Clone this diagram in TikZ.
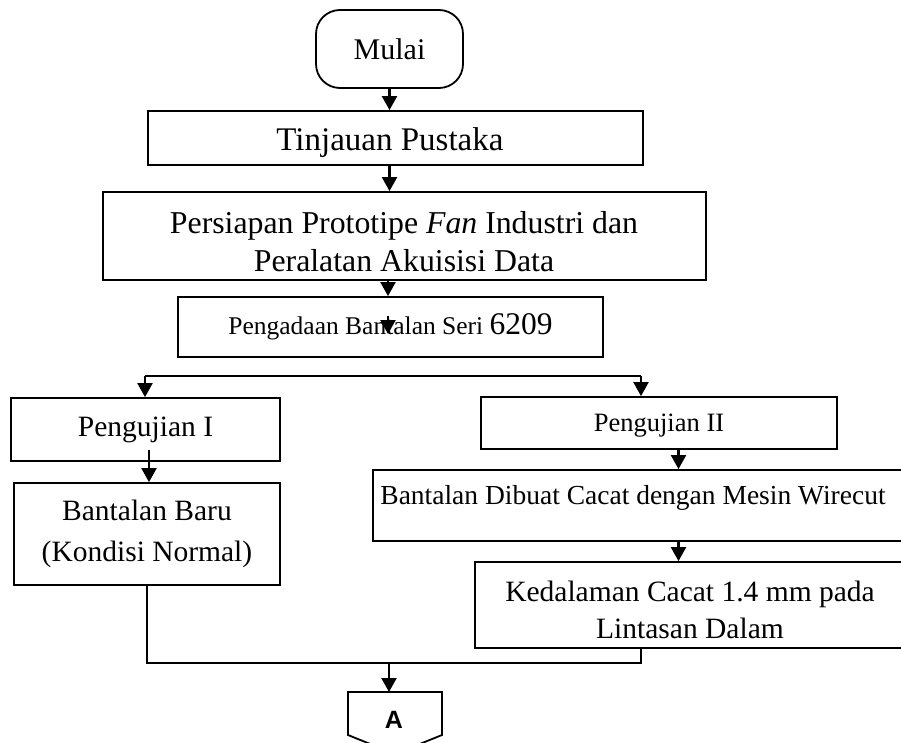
\documentclass[tikz,border=0pt]{standalone}
\usepackage{fontspec}
\setmainfont{Liberation Serif}
\newfontfamily\sansA{Liberation Sans}
\usetikzlibrary{arrows.meta}
\begin{document}
\begin{tikzpicture}[x=1pt,y=-1pt,
  box/.style={draw, line width=1.8pt, inner sep=0pt, align=center},
  txt/.style={inner sep=0pt, align=center},
  arr/.style={line width=2.2pt, -{Triangle[length=14pt,width=15pt]}},
  conn/.style={line width=2.2pt}]
\useasboundingbox (0,0) rectangle (901,743);
\clip (0,0) rectangle (901,743);

% nodes
\node[box, rounded corners=24pt, minimum width=147pt, minimum height=78pt,
  font=\fontsize{30}{34}\selectfont] (mulai) at (389.5,49) {Mulai};
\node[box, minimum width=495pt, minimum height=54pt] (tin) at (395.5,138) {};
\node[txt, font=\fontsize{33}{37}\selectfont] (tint) at (390,143) {Tinjauan Pustaka};
\node[box, minimum width=603pt, minimum height=88pt] (pers) at (404.5,236) {};
\node[txt, font=\fontsize{31.8}{38}\selectfont] (perst) at (404,242)
  {Persiapan Prototipe \textit{Fan} Industri dan\\Peralatan Akuisisi Data};
\node[box, minimum width=425pt, minimum height=60pt,
  font=\fontsize{25.5}{30}\selectfont] (peng) at (390.5,327)
  {Pengadaan Bantalan Seri {\fontsize{31.5}{34}\selectfont 6209}};
\node[box, minimum width=269pt, minimum height=63pt,
  font=\fontsize{29.5}{34}\selectfont] (p1) at (145.5,429.5) {Pengujian I};
\node[box, minimum width=356pt, minimum height=52pt] (p2) at (659,423) {};
\node[txt, font=\fontsize{26.5}{31}\selectfont] (p2t) at (659,426) {Pengujian II};
\node[box, minimum width=266pt, minimum height=102pt,
  font=\fontsize{29.5}{41}\selectfont] (bb) at (147,534)
  {Bantalan Baru\\(Kondisi Normal)};
\node[box, minimum width=532pt, minimum height=71pt] (bd) at (639,505.5) {};
\node[txt, font=\fontsize{27.5}{32}\selectfont] (bdt) at (633,498)
  {Bantalan Dibuat Cacat dengan Mesin Wirecut};
\node[box, minimum width=430pt, minimum height=86pt] (kd) at (690,605) {};
\node[txt, font=\fontsize{29.5}{37}\selectfont] (kdt) at (690,610)
  {Kedalaman Cacat 1.4 mm pada\\Lintasan Dalam};

% off-page connector A
\draw[line width=1.8pt] (348,692) -- (442,692) -- (442,735) -- (395,754)
  -- (348,735) -- cycle;
\node[font=\sansA\bfseries\fontsize{25}{29}\selectfont] (A) at (394,720) {A};
\coordinate (atop) at (389,692);

% helper coordinates
\coordinate (s1) at (388,316);
\coordinate (s2) at (388,334);
\coordinate (brL) at (145,376);
\coordinate (brR) at (641,376);
\coordinate (xr) at (678.5,0);
\coordinate (jn) at (389,663);
\coordinate (jn2) at (641,663);
\coordinate (p1s) at (149,450);

% connectors
\draw[arr] (mulai.south) -- (mulai.south |- tin.north);
\draw[arr] (mulai.south |- tin.south) -- (mulai.south |- pers.north);
\draw[arr] (s1 |- pers.south) -- (s1 |- peng.north);
\draw[arr] (s1) -- (s2);
\draw[conn] (brL) -- (brR);
\draw[arr] (brL) -- (brL |- p1.north);
\draw[arr] (brR) -- (brR |- p2.north);
\draw[arr] (p1s) -- (p1s |- bb.north);
\draw[arr] (xr |- p2.south) -- (xr |- bd.north);
\draw[arr] (xr |- bd.south) -- (xr |- kd.north);
\draw[conn] (bb.south) -- (bb.south |- jn) -- (jn2) -- (jn2 |- kd.south);
\draw[arr] (jn) -- (atop);
\end{tikzpicture}
\end{document}
